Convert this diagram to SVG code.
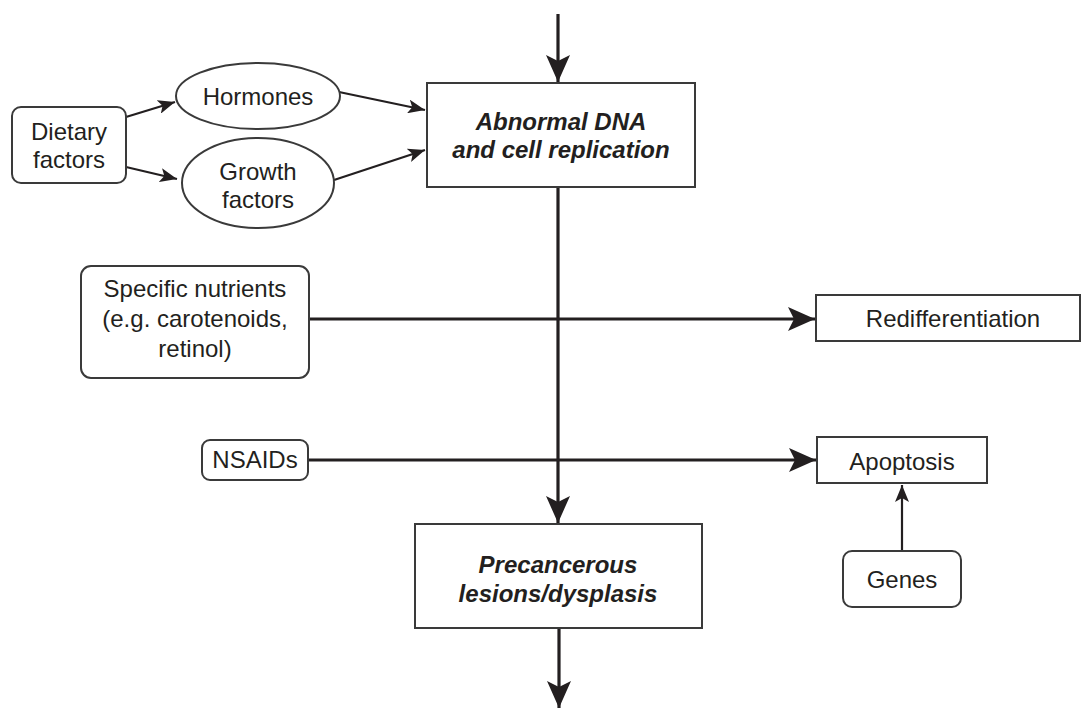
<svg xmlns="http://www.w3.org/2000/svg" width="1082" height="709" viewBox="0 0 1082 709">
<style>
.box{fill:#fff;stroke:#3a3a3a;stroke-width:2}
.t{font-family:"Liberation Sans",Arial,sans-serif;font-size:24px;fill:#231f20;text-anchor:middle}
.b{font-weight:bold;font-style:italic;font-size:24px}
.thick{stroke:#231f20;stroke-width:3.2;fill:none}
.thin{stroke:#231f20;stroke-width:2.2;fill:none}
</style>
<defs>
<marker id="big" markerUnits="userSpaceOnUse" markerWidth="28" markerHeight="24" refX="27" refY="12" orient="auto">
<path d="M0,0 L27,12 L0,24 L6,12 Z" fill="#231f20"/>
</marker>
<marker id="small" markerUnits="userSpaceOnUse" markerWidth="18" markerHeight="14" refX="17" refY="7" orient="auto">
<path d="M0,0 L17,7 L0,14 L4,7 Z" fill="#231f20"/>
</marker>
</defs>
<g id="connectors">
<line class="thick" x1="558" y1="14" x2="558" y2="82" marker-end="url(#big)"/>
<line class="thick" x1="558" y1="187" x2="558" y2="523" marker-end="url(#big)"/>
<line class="thick" x1="559" y1="628" x2="559" y2="708" marker-end="url(#big)"/>
<line class="thick" x1="309" y1="319" x2="815" y2="319" marker-end="url(#big)"/>
<line class="thick" x1="308" y1="460" x2="816" y2="460" marker-end="url(#big)"/>
<line class="thin" x1="902" y1="551" x2="902" y2="485" marker-end="url(#small)"/>
<line class="thin" x1="126" y1="117" x2="175" y2="102" marker-end="url(#small)"/>
<line class="thin" x1="126" y1="167" x2="177" y2="179" marker-end="url(#small)"/>
<line class="thin" x1="339" y1="92" x2="425" y2="110" marker-end="url(#small)"/>
<line class="thin" x1="334" y1="180" x2="425" y2="150" marker-end="url(#small)"/>
</g>
<g id="dietary">
<rect class="box" x="12" y="107" width="114" height="76" rx="9"/>
<text class="t" x="69" y="140">Dietary</text>
<text class="t" x="69" y="168">factors</text>
</g>
<g id="hormones">
<ellipse class="box" cx="258" cy="96" rx="82" ry="33"/>
<text class="t" x="258" y="105">Hormones</text>
</g>
<g id="growth">
<ellipse class="box" cx="258" cy="183" rx="76" ry="45"/>
<text class="t" x="258" y="180">Growth</text>
<text class="t" x="258" y="208">factors</text>
</g>
<g id="abnormal">
<rect class="box" x="427" y="83" width="268" height="104"/>
<text class="t b" x="561" y="130">Abnormal DNA</text>
<text class="t b" x="561" y="158">and cell replication</text>
</g>
<g id="nutrients">
<rect class="box" x="81" y="266" width="228" height="112" rx="10"/>
<text class="t" x="195" y="297">Specific nutrients</text>
<text class="t" x="195" y="327">(e.g. carotenoids,</text>
<text class="t" x="195" y="357">retinol)</text>
</g>
<g id="redifferentiation">
<rect class="box" x="816" y="295" width="264" height="46"/>
<text class="t" x="953" y="327">Redifferentiation</text>
</g>
<g id="nsaids">
<rect class="box" x="202" y="440" width="106" height="40" rx="8"/>
<text class="t" x="255" y="468">NSAIDs</text>
</g>
<g id="apoptosis">
<rect class="box" x="817" y="437" width="170" height="46"/>
<text class="t" x="902" y="470">Apoptosis</text>
</g>
<g id="genes">
<rect class="box" x="843" y="551" width="118" height="56" rx="9"/>
<text class="t" x="902" y="588">Genes</text>
</g>
<g id="precancerous">
<rect class="box" x="415" y="524" width="287" height="104"/>
<text class="t b" x="558" y="573">Precancerous</text>
<text class="t b" x="558" y="602">lesions/dysplasis</text>
</g>
</svg>
